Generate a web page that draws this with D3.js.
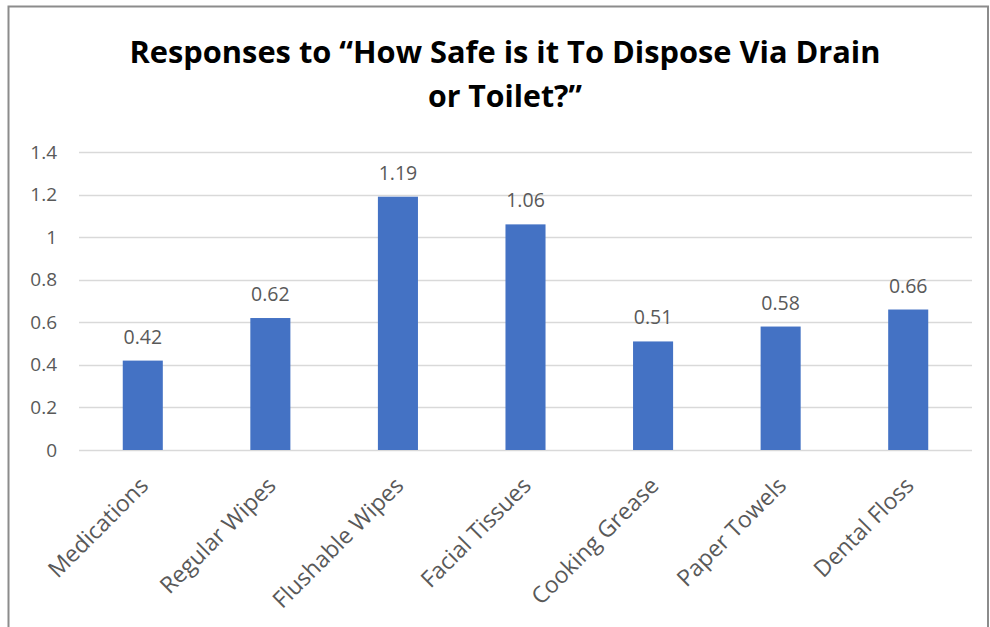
<!DOCTYPE html>
<html><head><meta charset="utf-8">
<script src="https://cdn.jsdelivr.net/npm/d3@7"></script>
<style>
html,body{margin:0;padding:0;background:#fff;}
svg{display:block;}
text{font-family:"Open Sans","Noto Sans",sans-serif;}
</style></head>
<body><svg id="chart" width="990" height="627"></svg>
<script>
const categories = ["Medications","Regular Wipes","Flushable Wipes","Facial Tissues","Cooking Grease","Paper Towels","Dental Floss"];
const values = [0.42,0.62,1.19,1.06,0.51,0.58,0.66];
const yTicks = [0,0.2,0.4,0.6,0.8,1,1.2,1.4];
const titleLines = ["Responses to \u201cHow Safe is it To Dispose Via Drain","or Toilet?\u201d"];

const svg = d3.select("#chart");
// border
svg.append("path").attr("d","M8.5,627 V6.5 H988 V627").attr("fill","none").attr("stroke","#8c8c8c").attr("stroke-width",2);

const m = {left:79, right:972, top:152, bottom:450};
const x = d3.scaleBand().domain(categories).range([m.left,m.right]).paddingInner(0.686).paddingOuter(0.343);
const y = d3.scaleLinear().domain([0,1.4]).range([m.bottom,m.top]);

// gridlines
svg.append("g").selectAll("line").data(yTicks).join("line")
  .attr("x1",m.left).attr("x2",m.right)
  .attr("y1",d=>Math.round(y(d))+0.5).attr("y2",d=>Math.round(y(d))+0.5)
  .attr("stroke","#d9d9d9").attr("stroke-width",1.5);

// y axis labels
const yAxis = d3.axisLeft(y).tickValues(yTicks).tickSize(0).tickPadding(0).tickFormat(d=>String(d));
const gy = svg.append("g").attr("transform",`translate(57,0)`).call(yAxis);
gy.select(".domain").remove();
gy.selectAll("text").attr("fill","#595959").style("font-size","19px").style("font-family","'Open Sans',sans-serif");

// bars
svg.append("g").selectAll("rect").data(values).join("rect")
  .attr("x",(d,i)=>x(categories[i])).attr("width",x.bandwidth())
  .attr("y",d=>y(d)).attr("height",d=>y(0)-y(d))
  .attr("fill","#4472c4");

// value labels
svg.append("g").selectAll("text").data(values).join("text")
  .attr("x",(d,i)=>x(categories[i])+x.bandwidth()/2)
  .attr("y",d=>y(d)-17)
  .attr("text-anchor","middle").attr("fill","#595959").style("font-size","19.5px")
  .text(d=>String(d));

// x axis labels
const xAxis = d3.axisBottom(x).tickSize(0).tickPadding(0);
const gx = svg.append("g").attr("transform",`translate(0,${m.bottom})`).call(xAxis);
gx.select(".domain").remove();
gx.selectAll("text").attr("fill","#595959").style("font-size","23px").style("font-family","'Open Sans',sans-serif")
  .attr("text-anchor","end").attr("dy",null).attr("y",0)
  .attr("transform","translate(7,37) rotate(-45)");

// title
svg.append("g").selectAll("text").data(titleLines).join("text")
  .attr("x",505).attr("y",(d,i)=>63+i*44)
  .attr("text-anchor","middle").attr("fill","#000").style("font-weight","bold").style("font-size","30px")
  .attr("textLength",(d,i)=>i===0?751:154).attr("lengthAdjust","spacingAndGlyphs")
  .text(d=>d);
</script></body></html>
